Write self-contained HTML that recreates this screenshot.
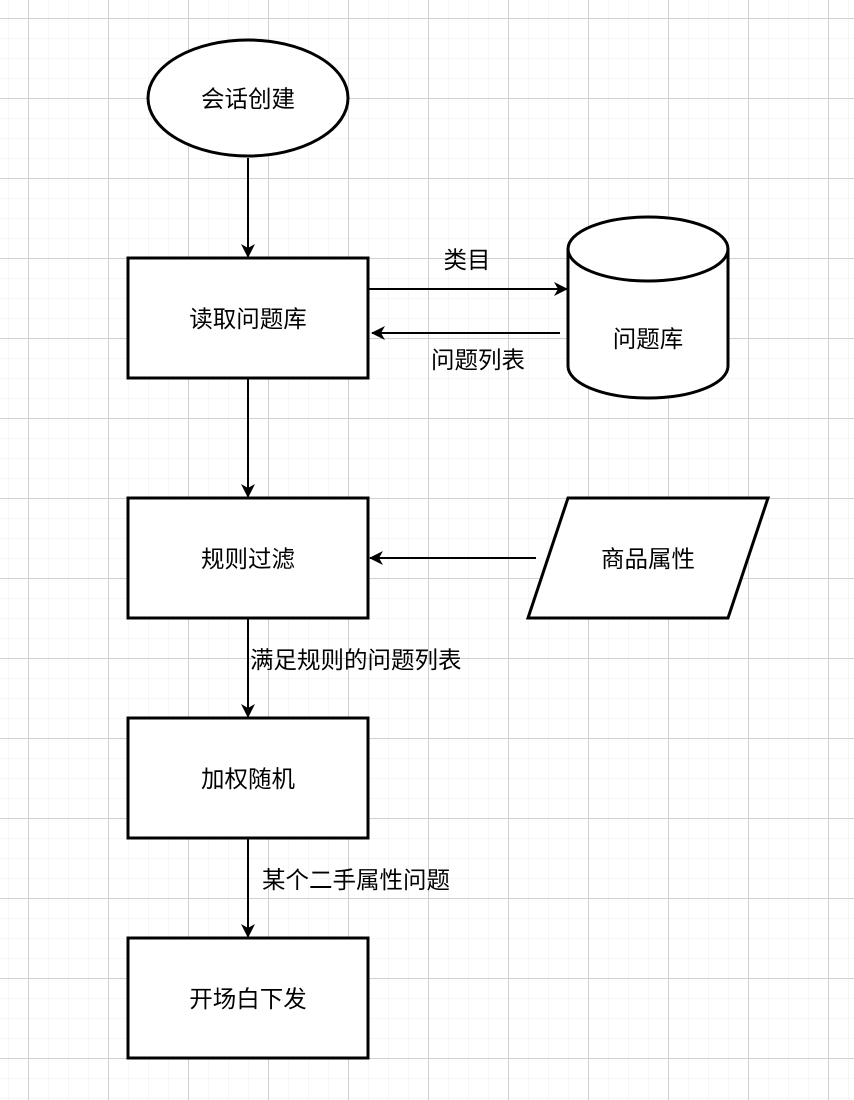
<!DOCTYPE html>
<html><head><meta charset="utf-8"><style>
html,body{margin:0;padding:0;background:#fff}
svg{display:block}
text{font-family:"Liberation Sans","Noto Sans CJK SC",sans-serif;font-size:23.5px;fill:#000}
</style></head><body>
<svg width="854" height="1100" viewBox="0 0 854 1100" xmlns="http://www.w3.org/2000/svg">
<defs>
<pattern id="minor" x="8" y="-2" width="20" height="20" patternUnits="userSpaceOnUse">
<path d="M0 0H20M0 0V20" stroke="#ececec" stroke-width="1" fill="none"/>
</pattern>
<pattern id="major" x="28" y="18" width="80" height="80" patternUnits="userSpaceOnUse">
<path d="M0 0.5H80M0.5 0V80" stroke="#d0d0d0" stroke-width="1" fill="none"/>
</pattern>
<marker id="a" markerWidth="14" markerHeight="14" refX="13" refY="7" orient="auto" markerUnits="userSpaceOnUse" viewBox="0 0 14 14">
<path d="M0 0L14 7L0 14L4 7Z" fill="#000"/>
</marker>
</defs>
<rect width="854" height="1100" fill="url(#minor)"/>
<rect width="854" height="1100" fill="url(#major)"/>
<g stroke="#000" stroke-width="3" fill="#fff">
<ellipse cx="248" cy="98" rx="100" ry="58"/>
<rect x="128" y="258" width="240" height="120"/>
<rect x="128" y="498" width="240" height="120"/>
<rect x="128" y="718" width="240" height="120"/>
<rect x="128" y="938" width="240" height="120"/>
<path d="M568 249A80 32 0 0 1 728 249V366A80 32 0 0 1 568 366Z"/>
<path d="M568 249A80 32 0 0 0 728 249" fill="none"/>
<path d="M568 498H768L728 618H528Z"/>
</g>
<g stroke="#000" stroke-width="2" fill="none">
<path d="M248 158V257" marker-end="url(#a)"/>
<path d="M248 378V497" marker-end="url(#a)"/>
<path d="M248 618V717" marker-end="url(#a)"/>
<path d="M248 838V937" marker-end="url(#a)"/>
<path d="M368 289H567" marker-end="url(#a)"/>
<path d="M560 333H372" marker-end="url(#a)"/>
<path d="M536 558H370" marker-end="url(#a)"/>
</g>
<g text-anchor="middle">
<text x="248" y="107">会话创建</text>
<text x="248" y="327">读取问题库</text>
<text x="248" y="567">规则过滤</text>
<text x="248" y="787">加权随机</text>
<text x="248" y="1007">开场白下发</text>
<text x="648" y="347">问题库</text>
<text x="648" y="567">商品属性</text>
<text x="467" y="268">类目</text>
<text x="478" y="368">问题列表</text>
</g>
<text x="250" y="668">满足规则的问题列表</text>
<text x="262" y="888">某个二手属性问题</text>
</svg>
</body></html>
